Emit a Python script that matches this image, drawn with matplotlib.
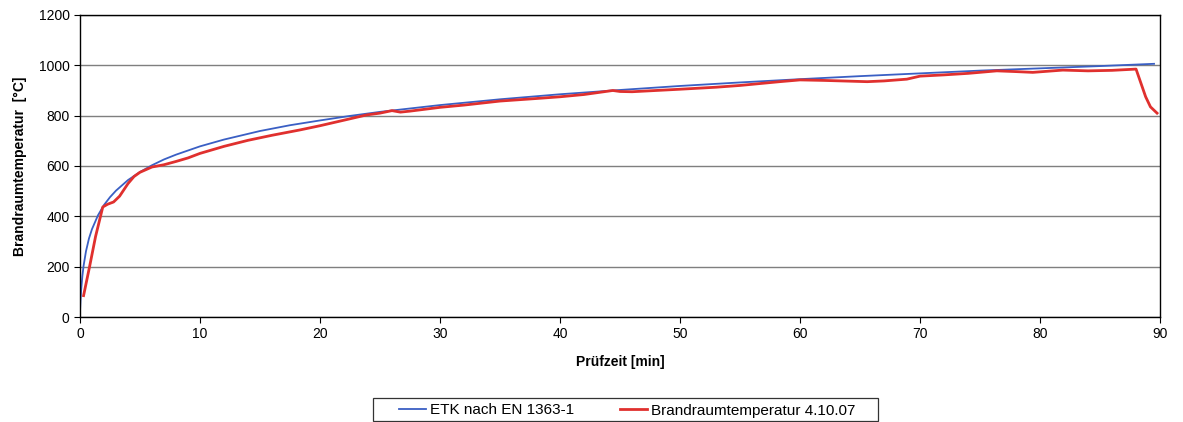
import matplotlib
matplotlib.use('Agg')
import matplotlib.pyplot as plt
import matplotlib.patches as mpatches

plt.rcParams['font.family'] = ['Liberation Sans', 'DejaVu Sans']

# ETK nach EN 1363-1
etk_t = [0, 0.05, 0.1, 0.2, 0.3, 0.5, 0.75, 1, 1.5, 2, 2.5, 3, 4, 5, 6, 7, 8,
         10, 12, 15, 17.5, 20, 22.5, 25, 30, 35, 40, 45, 50, 55, 60, 65, 70,
         75, 80, 85, 89.5]
etk_temp = [20, 70, 108, 163, 203, 261, 312, 349, 404, 445, 476, 502, 544, 576,
            603, 626, 645, 678, 705, 739, 762, 781, 799, 815, 842, 865, 885,
            902, 918, 932, 945, 957, 968, 979, 988, 997, 1006]

# Brandraumtemperatur 4.10.07
mess_t = [0.3, 0.8, 1.3, 1.9, 2.3, 2.8, 3.3, 4.0, 4.5, 5.0, 6.0, 7.0, 8.0, 9.0,
          10, 12, 14, 16, 18.3, 20, 22, 23.9, 25, 26, 26.7, 27.5, 28.5, 30, 32,
          35, 38, 40, 42, 44.4, 45, 46, 48, 50, 53, 55, 58.3, 60, 62, 65.6, 67,
          68.9, 70, 72, 74, 76.4, 78, 79.4, 81.9, 84, 86, 88.0, 88.4, 88.8,
          89.2, 89.75]
mess_temp = [85, 200, 320, 437, 448, 457, 480, 530, 558, 575, 596, 605, 618, 632,
             650, 678, 702, 722, 743, 760, 782, 803, 810, 820, 814, 818, 824, 833,
             842, 858, 868, 875, 884, 900, 896, 895, 900, 905, 913, 920, 935, 942,
             940, 935, 938, 945, 957, 962, 968, 978, 975, 972, 981, 978, 980, 985,
             930, 875, 835, 810]

fig = plt.figure(figsize=(11.83, 4.22), dpi=100)
ax = fig.add_axes([0.0676, 0.2488, 0.9130, 0.7157])

ax.plot(etk_t, etk_temp, color='#3a5fc4', linewidth=1.3, label='ETK nach EN 1363-1')
ax.plot(mess_t, mess_temp, color='#e0302e', linewidth=2.0,
        label='Brandraumtemperatur 4.10.07')

ax.set_xlim(0, 90)
ax.set_ylim(0, 1200)
ax.set_xticks(range(0, 91, 10))
ax.set_yticks(range(0, 1201, 200))
ax.yaxis.grid(True, color='#7f7f7f', linewidth=1.0)
ax.set_axisbelow(True)
for s in ax.spines.values():
    s.set_color('black')
    s.set_linewidth(1.0)
ax.tick_params(labelsize=10, length=4, color='black')

ax.set_xlabel('Prüfzeit [min]', fontsize=10, fontweight='bold', labelpad=10)
ax.set_ylabel('Brandraumtemperatur  [°C]', fontsize=10, fontweight='bold', labelpad=8)

# legend box drawn separately (wider padding than matplotlib allows)
W, H = 1183, 422
fig.patches.append(mpatches.Rectangle((373 / W, 1 - 421 / H), 505 / W, 23 / H,
                                      transform=fig.transFigure, fill=False,
                                      edgecolor='#333333', linewidth=0.9))
fig.legend(loc='center', bbox_to_anchor=(627 / W, 1 - 410.5 / H), ncol=2,
           fontsize=11, frameon=False, handlelength=1.8, handletextpad=0.25,
           columnspacing=3.0, borderpad=0.0, borderaxespad=0.0)

fig.savefig('out.png', dpi=100, facecolor='white')
